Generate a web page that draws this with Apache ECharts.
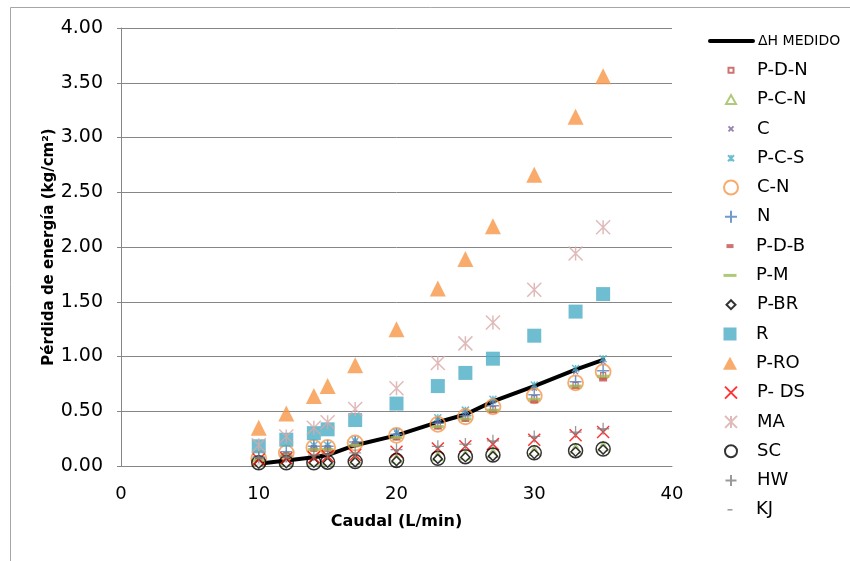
<!DOCTYPE html>
<html>
<head>
<meta charset="utf-8">
<script src="https://cdn.jsdelivr.net/npm/echarts@6/dist/echarts.min.js"></script>
<style>
html,body{margin:0;padding:0;background:#fff;}
#chart{width:850px;height:561px;}
</style>
</head>
<body>
<div id="chart"></div>
<script>
// ---- data ----
var caudal = [10, 12, 14, 15, 17, 20, 23, 25, 27, 30, 33, 35];
var dhMedido = [0.02, 0.05, 0.08, 0.10, 0.19, 0.28, 0.40, 0.47, 0.59, 0.73, 0.88, 0.97];
var pDN = [0.05, 0.10, 0.16, 0.16, 0.20, 0.27, 0.37, 0.44, 0.52, 0.62, 0.74, 0.83];
var pCN = [0.04, 0.045, 0.05, 0.05, 0.06, 0.07, 0.09, 0.10, 0.12, 0.14, 0.16, 0.18];
var cS = [0.03, 0.07, 0.17, 0.17, 0.22, 0.30, 0.42, 0.49, 0.59, 0.71, 0.86, 0.95];
var pCS = [0.04, 0.08, 0.19, 0.19, 0.23, 0.31, 0.44, 0.51, 0.61, 0.74, 0.89, 0.98];
var cN = [0.07, 0.12, 0.17, 0.17, 0.21, 0.28, 0.38, 0.45, 0.54, 0.64, 0.76, 0.86];
var nS = [0.08, 0.13, 0.18, 0.18, 0.22, 0.29, 0.39, 0.46, 0.55, 0.65, 0.77, 0.87];
var pDB = [0.06, 0.10, 0.15, 0.15, 0.19, 0.25, 0.35, 0.42, 0.50, 0.59, 0.72, 0.79];
var pM = [0.05, 0.10, 0.15, 0.15, 0.19, 0.26, 0.36, 0.43, 0.51, 0.61, 0.73, 0.82];
var pBR = [0.02, 0.025, 0.03, 0.03, 0.035, 0.045, 0.065, 0.08, 0.09, 0.11, 0.13, 0.15];
var rS = [0.18, 0.24, 0.30, 0.335, 0.42, 0.57, 0.73, 0.85, 0.98, 1.19, 1.41, 1.57];
var pRO = [0.35, 0.48, 0.64, 0.73, 0.92, 1.25, 1.62, 1.89, 2.19, 2.66, 3.19, 3.56];
var pDS = [0.06, 0.07, 0.08, 0.09, 0.10, 0.13, 0.16, 0.18, 0.20, 0.24, 0.28, 0.31];
var mA = [0.19, 0.27, 0.35, 0.40, 0.52, 0.71, 0.94, 1.12, 1.31, 1.61, 1.94, 2.18];
var sC = [0.03, 0.03, 0.03, 0.035, 0.04, 0.05, 0.07, 0.085, 0.10, 0.12, 0.14, 0.155];
var hW = [0.08, 0.09, 0.10, 0.11, 0.12, 0.15, 0.18, 0.20, 0.23, 0.27, 0.31, 0.34];
var kJ = [0.07, 0.08, 0.09, 0.10, 0.11, 0.14, 0.17, 0.19, 0.22, 0.26, 0.30, 0.33];
var lineName = 'ΔH MEDIDO';
var xTicks = [0, 10, 20, 30, 40];
var yTicks = [0, 0.5, 1, 1.5, 2, 2.5, 3, 3.5, 4];
var xTitle = 'Caudal (L/min)';
var yTitle = 'Pérdida de energía (kg/cm²)';

function pts(arr){ return caudal.map(function(x,i){ return [x, arr[i]]; }); }

function xPath(s){ return 'path://M0 0L'+s+' '+s+'M'+s+' 0L0 '+s; }
function plusPath(s){ var h=s/2; return 'path://M'+h+' 0L'+h+' '+s+'M0 '+h+'L'+s+' '+h; }
function starPath(s){ var h=s/2; return 'path://M0 0L'+s+' '+s+'M'+s+' 0L0 '+s+'M'+h+' 0L'+h+' '+s; }
function triPath(w,h){ return 'path://M'+(w/2)+' 0L'+w+' '+h+'L0 '+h+'Z'; }
function rectPath(w,h){ return 'path://M0 0L'+w+' 0L'+w+' '+h+'L0 '+h+'Z'; }
function diaPath(s){ var h=s/2; return 'path://M'+h+' 0L'+s+' '+h+'L'+h+' '+s+'L0 '+h+'Z'; }
var NONE = 'rgba(0,0,0,0)';

// name, values, chart symbol, chart size, legend icon, legend icon [w,h], itemStyle
var defs = [
  ['P-D-N', pDN, 'rect', 5, rectPath(5,5), [5,5], {color:'#fff', borderColor:'#c0504d', borderWidth:1.3}],
  ['P-C-N', pCN, triPath(10,9), [10,9], triPath(10,9), [10,9], {color:NONE, borderColor:'#9bbb59', borderWidth:1.5}],
  ['C', cS, xPath(10), 5, xPath(5), [5,5], {color:NONE, borderColor:'#8064a2', borderWidth:1.3}],
  ['P-C-S', pCS, starPath(10), 7, starPath(6), [6,6], {color:NONE, borderColor:'#4bacc6', borderWidth:1.5}],
  ['C-N', cN, 'circle', 15, 'circle', [14,14], {color:NONE, borderColor:'#f79646', borderWidth:1.8}],
  ['N', nS, plusPath(10), 12, plusPath(12), [12,12], {color:NONE, borderColor:'#4f81bd', borderWidth:1.5}],
  ['P-D-B', pDB, 'rect', [8,4], rectPath(7,4), [7,4], {color:'#c0504d', borderColor:'#c0504d', borderWidth:0}],
  ['P-M', pM, 'rect', [12,3], rectPath(13,3), [13,3], {color:'#9bbb59', borderColor:'#9bbb59', borderWidth:0}],
  ['P-BR', pBR, 'diamond', 9, diaPath(9), [9,9], {color:'#fff', borderColor:'#000', borderWidth:1.5}],
  ['R', rS, 'rect', 14, rectPath(13,13), [13,13], {color:'#4bacc6', borderColor:'#4bacc6', borderWidth:0}],
  ['P-RO', pRO, 'triangle', 16, triPath(14,13), [14,13], {color:'#f79646', borderColor:'#f79646', borderWidth:0}],
  ['P- DS', pDS, xPath(10), 12, xPath(12), [12,12], {color:NONE, borderColor:'#ff0000', borderWidth:1.5}],
  ['MA', mA, starPath(10), 14, starPath(12), [12,12], {color:NONE, borderColor:'#d8a9a7', borderWidth:1.5}],
  ['SC', sC, 'circle', 14, 'circle', [12,12], {color:NONE, borderColor:'#000', borderWidth:1.5}],
  ['HW', hW, plusPath(10), 12, plusPath(11), [11,11], {color:NONE, borderColor:'#7f7f7f', borderWidth:1.3}],
  ['KJ', kJ, 'rect', [5,1.5], rectPath(5,1.5), [5,1.5], {color:'#7f7f7f', borderColor:'#7f7f7f', borderWidth:0}]
];

var series = [{
  name: lineName, type: 'line', data: pts(dhMedido), symbol: 'none',
  lineStyle: {color:'#000', width:4, cap:'round', join:'round'}, itemStyle:{color:'#000'},
  z: 2, animation: false
}];
defs.forEach(function(d){
  series.push({
    name: d[0], type: 'scatter', data: pts(d[1]), symbol: d[2], symbolSize: d[3],
    itemStyle: d[6], z: 3, animation: false
  });
});

var FONT = '"DejaVu Sans", sans-serif';
var legendTop0 = 41, legendStep = 29.3, LH = 20, ICON_CX = 730;
var legends = [];
legends.push({
  data: [{name: lineName, itemStyle: {color: NONE, borderColor: NONE, borderWidth: 0}}],
  orient: 'vertical', padding: 0, selectedMode: false,
  itemWidth: 43, itemHeight: 4, left: 708, top: legendTop0 - LH / 2,
  lineStyle: {width: 4, color: '#000', cap: 'round'},
  textStyle: {fontFamily: FONT, fontSize: 14, color: '#000', lineHeight: LH}
});
defs.forEach(function(d, i){
  var yc = legendTop0 + (i + 1) * legendStep;
  var iw = d[5][0], ih = d[5][1];
  legends.push({
    data: [{name: d[0], icon: d[4]}], orient: 'vertical', padding: 0, selectedMode: false,
    itemWidth: 42, itemHeight: ih, symbolKeepAspect: true,
    left: ICON_CX - iw / 2, top: yc - Math.max(ih, LH) / 2,
    textStyle: {fontFamily: FONT, fontSize: 18, color: '#000', lineHeight: LH}
  });
});

var option = {
  animation: false,
  backgroundColor: '#fff',
  grid: {left: 121, right: 178, top: 28, bottom: 95, containLabel: false},
  xAxis: {
    type: 'value', min: xTicks[0], max: xTicks[xTicks.length-1], interval: xTicks[1]-xTicks[0],
    name: xTitle, nameLocation: 'middle', nameGap: 48, nameMoveOverlap: false,
    nameTextStyle: {fontFamily: FONT, fontSize: 16, fontWeight: 'bold', color:'#000'},
    axisLine: {show: true, lineStyle: {color:'#868686', width:1}},
    axisTick: {show: false},
    splitLine: {show: false},
    axisLabel: {fontFamily: FONT, fontSize: 18, color:'#000', margin: 19}
  },
  yAxis: {
    type: 'value', min: yTicks[0], max: yTicks[yTicks.length-1], interval: yTicks[1]-yTicks[0],
    name: yTitle, nameLocation: 'middle', nameGap: 64, nameRotate: 90, nameMoveOverlap: false,
    nameTextStyle: {fontFamily: FONT, fontSize: 15, fontWeight: 'bold', color:'#000'},
    axisLine: {show: true, lineStyle: {color:'#868686', width:1}},
    axisTick: {show: true, length: 4, lineStyle:{color:'#868686'}},
    splitLine: {show: true, lineStyle: {color:'#868686', width:1}},
    axisLabel: {fontFamily: FONT, fontSize: 19, color:'#000', margin: 18,
      formatter: function(v){ return v.toFixed(2); }}
  },
  legend: legends,
  graphic: [{
    type: 'rect', left: 8, top: 5, shape: {width: 900, height: 600}, silent: true,
    style: {fill: 'none', stroke: '#a6a6a6', lineWidth: 1}, z: -1
  }],
  series: series
};
var chart = echarts.init(document.getElementById('chart'), null, {renderer:'canvas'});
chart.setOption(option);
</script>
</body>
</html>
